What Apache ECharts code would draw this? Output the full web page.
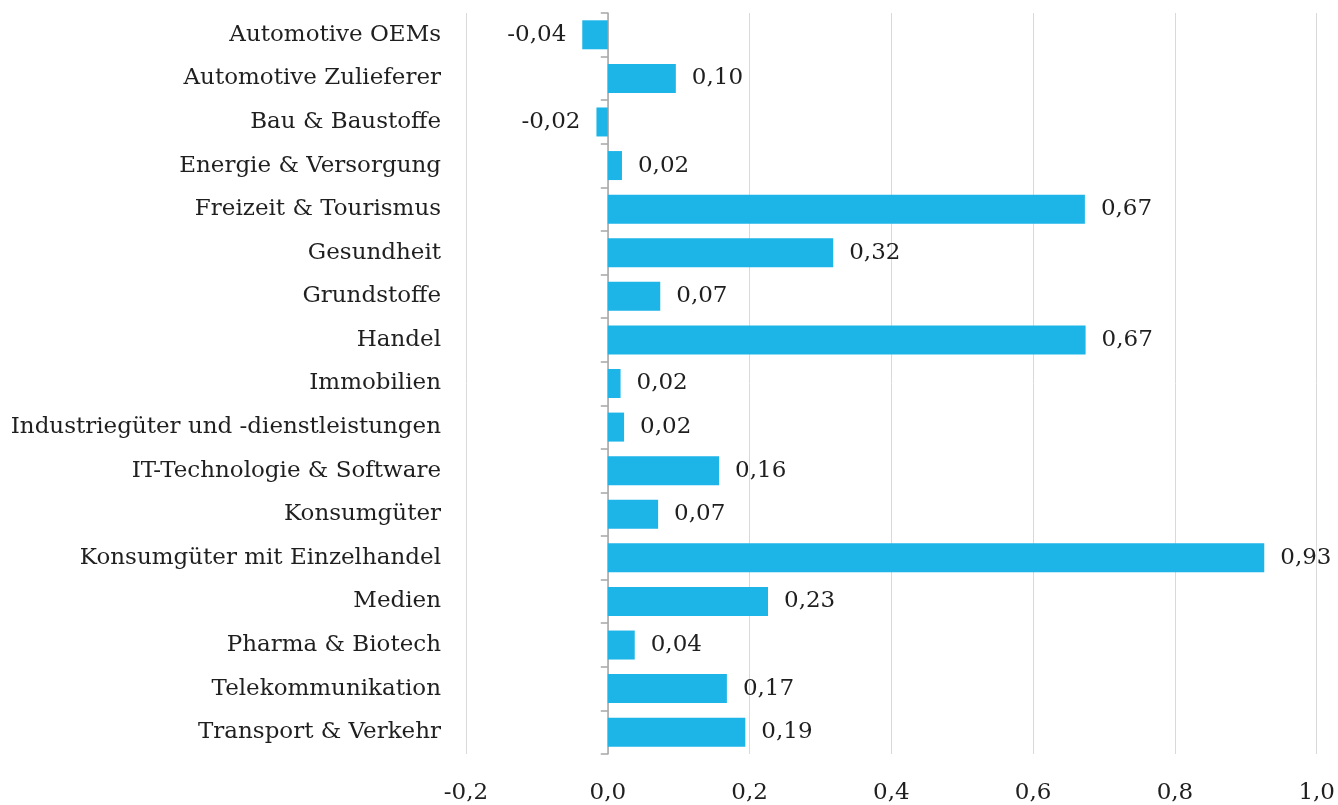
<!DOCTYPE html>
<html>
<head>
<meta charset="utf-8">
<script src="https://cdn.jsdelivr.net/npm/echarts@6/dist/echarts.min.js"></script>
<style>
  html, body { margin: 0; padding: 0; background: #fff; }
  #chart { width: 1338px; height: 805px; }
</style>
</head>
<body>
<div id="chart"></div>
<script>
var sectors = [
    'Automotive OEMs',
    'Automotive Zulieferer',
    'Bau & Baustoffe',
    'Energie & Versorgung',
    'Freizeit & Tourismus',
    'Gesundheit',
    'Grundstoffe',
    'Handel',
    'Immobilien',
    'Industriegüter und -dienstleistungen',
    'IT-Technologie & Software',
    'Konsumgüter',
    'Konsumgüter mit Einzelhandel',
    'Medien',
    'Pharma & Biotech',
    'Telekommunikation',
    'Transport & Verkehr'
];
var values = [-0.036, 0.096, -0.016, 0.020, 0.673, 0.318, 0.074, 0.674, 0.018, 0.023, 0.157, 0.071, 0.926, 0.226, 0.038, 0.168, 0.194];

var xMin = -0.2, xMax = 1.0, xStep = 0.2;

var font = '"DejaVu Serif", "Liberation Serif", serif';
var textColor = '#1f1f1f';

function fmt(v, d) {
    return v.toFixed(d).replace('.', ',');
}

var myChart = echarts.init(document.getElementById('chart'));

var barData = [];
for (var i = 0; i < values.length; i++) {
    barData.push({
        value: values[i],
        label: { position: values[i] < 0 ? 'left' : 'right' }
    });
}

var option = {
    animation: false,
    grid: { left: 466, right: 21, top: 13, bottom: 48, containLabel: false },
    xAxis: {
        type: 'value',
        min: xMin,
        max: xMax,
        interval: xStep,
        axisLine: { show: false },
        axisTick: { show: false },
        splitLine: { lineStyle: { color: '#d9d9d9', width: 1 } },
        axisLabel: {
            margin: 28,
            fontFamily: font,
            fontSize: 23,
            color: textColor,
            formatter: function (v) { return fmt(v, 1); }
        }
    },
    yAxis: [{
        type: 'category',
        data: sectors,
        inverse: true,
        axisLine: { show: false, onZero: false },
        axisTick: { show: false },
        axisLabel: {
            margin: 25,
            fontFamily: font,
            fontSize: 23,
            color: textColor
        }
    }, {
        type: 'category',
        data: sectors,
        inverse: true,
        position: 'left',
        axisLine: { show: true, onZero: true, lineStyle: { color: '#a6a6a6', width: 1.5 } },
        axisTick: { show: true, length: 7, lineStyle: { color: '#a6a6a6', width: 1.5 } },
        axisLabel: { show: false }
    }],
    series: [{
        type: 'bar',
        yAxisIndex: 0,
        data: barData,
        barWidth: 29,
        itemStyle: { color: '#1db5e8' },
        label: {
            show: true,
            distance: 16,
            fontFamily: font,
            fontSize: 23,
            color: textColor,
            formatter: function (p) { return fmt(p.value, 2); }
        }
    }]
};

myChart.setOption(option);
</script>
</body>
</html>
